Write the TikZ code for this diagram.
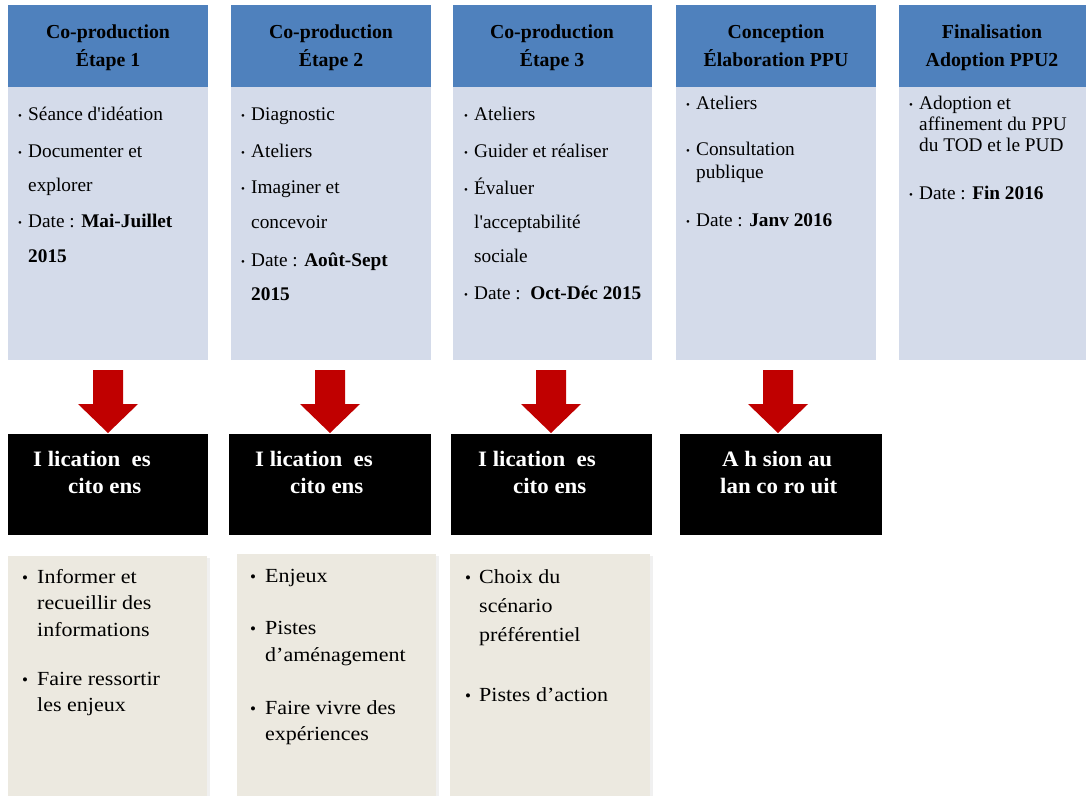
\documentclass[tikz,border=0pt]{standalone}
\usepackage{fontspec}
\setmainfont{Liberation Serif}[Ligatures=TeXOff]
\newfontfamily\notefont{Liberation Serif}[FakeStretch=1.1]
\newfontfamily\boxfont{Liberation Serif}[FakeStretch=1.04]
\begin{document}
\begin{tikzpicture}[x=1pt,y=-1pt,
  hdr/.style={fill=hdrblue,draw=none},
  bodybox/.style={fill=bodyblue,draw=none},
  blackbox/.style={fill=black,draw=none},
  notebox/.style={fill=notebeige,draw=none},
  shadowbox/.style={fill=black!6,draw=none},
  downarrow/.style={fill=arrowred,draw=none},
  htxt/.style={font=\fontsize{19.8}{22}\selectfont\bfseries,anchor=base,inner sep=0pt},
  btxt/.style={font=\fontsize{19.3}{22}\selectfont,anchor=base west,inner sep=0pt},
  bul/.style={font=\fontsize{11}{13}\selectfont,anchor=base west,inner sep=0pt},
  wtxt/.style={font=\boxfont\fontsize{22}{24}\selectfont\bfseries,text=white,anchor=base west,inner sep=0pt},
  ntxt/.style={font=\notefont\fontsize{20}{22}\selectfont,anchor=base west,inner sep=0pt},
  nbul/.style={font=\fontsize{17}{19}\selectfont,anchor=base west,inner sep=0pt}]
\definecolor{hdrblue}{HTML}{4F81BD}
\definecolor{bodyblue}{HTML}{D4DBEA}
\definecolor{notebeige}{HTML}{ECE9E0}
\definecolor{arrowred}{HTML}{C00000}
\useasboundingbox (0,0) rectangle (1086,795);
\fill[white] (0,0) rectangle (1086,795);

% ---- column headers and bodies ----
\foreach \xa/\xb in {8/208,231/431,453/652,676/876,899/1086}{
  \path[bodybox] (\xa,87) rectangle (\xb,360);
  \path[hdr] (\xa,5) rectangle (\xb,87);
}

\node[htxt] (h1a) at (108,38) {Co-production};
\node[htxt] (h1b) at (108,66) {Étape 1};
\node[htxt] (h2a) at (331,38) {Co-production};
\node[htxt] (h2b) at (331,66) {Étape 2};
\node[htxt] (h3a) at (552,38) {Co-production};
\node[htxt] (h3b) at (552,66) {Étape 3};
\node[htxt] (h4a) at (776,38) {Conception};
\node[htxt] (h4b) at (776,66) {Élaboration PPU};
\node[htxt] (h5a) at (992,38) {Finalisation};
\node[htxt] (h5b) at (992,66) {Adoption PPU2};

% column 1
\node[bul] (b1a) at (18,119) {•};
\node[btxt] (t1a) at (28,120) {Séance d'idéation};
\node[bul] (b1b) at (18,156) {•};
\node[btxt] (t1b) at (28,157) {Documenter et};
\node[btxt] (t1c) at (28,191) {explorer};
\node[bul] (b1d) at (18,226) {•};
\node[btxt] (t1d) at (28,227) {Date : \textbf{Mai-Juillet}};
\node[btxt] (t1e) at (28,262) {\textbf{2015}};

% column 2
\node[bul] (b2a) at (241,119) {•};
\node[btxt] (t2a) at (251,120) {Diagnostic};
\node[bul] (b2b) at (241,156) {•};
\node[btxt] (t2b) at (251,157) {Ateliers};
\node[bul] (b2c) at (241,192) {•};
\node[btxt] (t2c) at (251,193) {Imaginer et};
\node[btxt] (t2d) at (251,228) {concevoir};
\node[bul] (b2e) at (241,265) {•};
\node[btxt] (t2e) at (251,266) {Date : \textbf{Août-Sept}};
\node[btxt] (t2f) at (251,300) {\textbf{2015}};

% column 3
\node[bul] (b3a) at (464,119) {•};
\node[btxt] (t3a) at (474,120) {Ateliers};
\node[bul] (b3b) at (464,156) {•};
\node[btxt] (t3b) at (474,157) {Guider et réaliser};
\node[bul] (b3c) at (464,193) {•};
\node[btxt] (t3c) at (474,194) {Évaluer};
\node[btxt] (t3d) at (474,228) {l'acceptabilité};
\node[btxt] (t3e) at (474,262) {sociale};
\node[bul] (b3f) at (464,298) {•};
\node[btxt] (t3f) at (474,299) {Date :\, \textbf{Oct-Déc 2015}};

% column 4
\node[bul] (b4a) at (686,108) {•};
\node[btxt] (t4a) at (696,109) {Ateliers};
\node[bul] (b4b) at (686,154) {•};
\node[btxt] (t4b) at (696,155) {Consultation};
\node[btxt] (t4c) at (696,178) {publique};
\node[bul] (b4d) at (686,225) {•};
\node[btxt] (t4d) at (696,226) {Date : \textbf{Janv 2016}};

% column 5
\node[bul] (b5a) at (909,108) {•};
\node[btxt] (t5a) at (919,109) {Adoption et};
\node[btxt] (t5b) at (919,130) {affinement du PPU};
\node[btxt] (t5c) at (919,151) {du TOD et le PUD};
\node[bul] (b5d) at (909,198) {•};
\node[btxt] (t5d) at (919,199) {Date : \textbf{Fin 2016}};

% ---- red arrows ----
\foreach \cx in {108,330,551,778}{
  \path[downarrow] (\cx-15,370) -- (\cx+15,370) -- (\cx+15,404) -- (\cx+30,404)
    -- (\cx,433) -- (\cx-30,404) -- (\cx-15,404) -- cycle;
}

% ---- black boxes ----
\path[blackbox] (8,434) rectangle (208,535);
\path[blackbox] (229,434) rectangle (431,535);
\path[blackbox] (451,434) rectangle (652,535);
\path[blackbox] (680,434) rectangle (882,535);

\node[wtxt] (k1a) at (33,466) {I lication\ \ es};
\node[wtxt] (k1b) at (68,493) {cito ens};
\node[wtxt] (k2a) at (255,466) {I lication\ \ es};
\node[wtxt] (k2b) at (290,493) {cito ens};
\node[wtxt] (k3a) at (478,466) {I lication\ \ es};
\node[wtxt] (k3b) at (513,493) {cito ens};
\node[wtxt] (k4a) at (722,466) {A h sion au};
\node[wtxt] (k4b) at (720,493) {lan co ro uit};

% ---- beige note boxes ----
\path[shadowbox] (10,558) rectangle (210,797);
\path[notebox] (8,556) rectangle (207,797);
\path[shadowbox] (239,556) rectangle (439,797);
\path[notebox] (237,554) rectangle (436,797);
\path[shadowbox] (452,556) rectangle (653,797);
\path[notebox] (450,554) rectangle (650,797);

% notes 1
\node[nbul] (n1ab) at (22,583) {•};
\node[ntxt] (n1a) at (37,583) {Informer et};
\node[ntxt] (n1b) at (37,609) {recueillir des};
\node[ntxt] (n1c) at (37,636) {informations};
\node[nbul] (n1db) at (22,685) {•};
\node[ntxt] (n1d) at (37,685) {Faire ressortir};
\node[ntxt] (n1e) at (37,711) {les enjeux};

% notes 2
\node[nbul] (n2ab) at (250,582) {•};
\node[ntxt] (n2a) at (265,582) {Enjeux};
\node[nbul] (n2bb) at (250,634) {•};
\node[ntxt] (n2b) at (265,634) {Pistes};
\node[ntxt] (n2c) at (265,661) {d’aménagement};
\node[nbul] (n2db) at (250,714) {•};
\node[ntxt] (n2d) at (265,714) {Faire vivre des};
\node[ntxt] (n2e) at (265,740) {expériences};

% notes 3
\node[nbul] (n3ab) at (465,583) {•};
\node[ntxt] (n3a) at (479,583) {Choix du};
\node[ntxt] (n3b) at (479,612) {scénario};
\node[ntxt] (n3c) at (479,641) {préférentiel};
\node[nbul] (n3db) at (465,701) {•};
\node[ntxt] (n3d) at (479,701) {Pistes d’action};
\end{tikzpicture}
\end{document}
